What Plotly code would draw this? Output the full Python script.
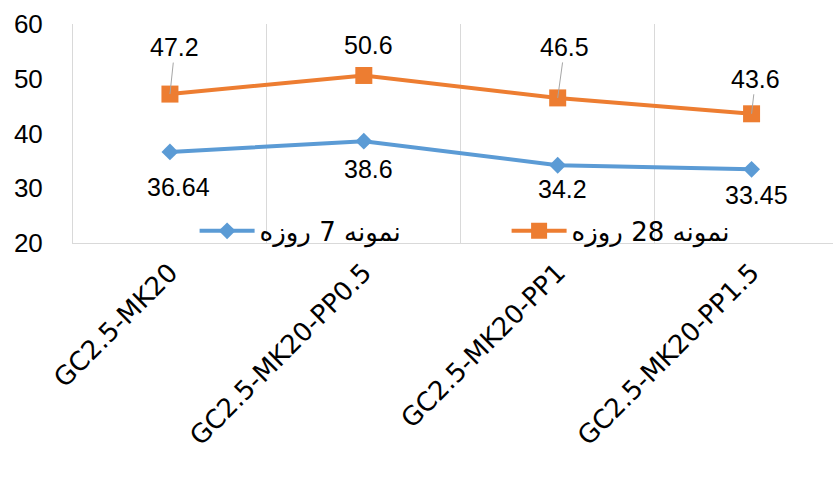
import plotly.graph_objects as go

# Mix designs on the category axis
categories = ["GC2.5-MK20", "GC2.5-MK20-PP0.5", "GC2.5-MK20-PP1", "GC2.5-MK20-PP1.5"]

# Compressive strength values
day7_values = [36.64, 38.6, 34.2, 33.45]
day28_values = [47.2, 50.6, 46.5, 43.6]

# Series names (Persian, shown right-to-left)
day7_name = "نمونه 7 روزه"
day28_name = "نمونه 28 روزه"

y_ticks = [20, 30, 40, 50, 60]

# Label placement (pixel offsets from each point) and leader-line flags
day7_label_offsets = [(9, 35), (5, 28), (5, 24), (5, 26)]
day28_label_offsets = [(5, -47), (5, -30), (7, -51), (4, -35)]
day28_leader = [True, False, True, True]

BLUE = "#5B9BD5"
ORANGE = "#ED7D31"
GRID = "#D9D9D9"
NUM_FONT = "Liberation Sans, Arial, DejaVu Sans, sans-serif"
TXT_FONT = "DejaVu Sans, sans-serif"


def rtl(s):
    return "\u202b" + s + "\u202c"


fig = go.Figure()
fig.add_trace(go.Scatter(
    x=categories, y=day7_values, name=rtl(day7_name), mode="lines+markers",
    line=dict(color=BLUE, width=4),
    marker=dict(symbol="diamond", size=13, color=BLUE),
))
fig.add_trace(go.Scatter(
    x=categories, y=day28_values, name=rtl(day28_name), mode="lines+markers",
    line=dict(color=ORANGE, width=4),
    marker=dict(symbol="square", size=17, color=ORANGE),
))

annotations = []
for cat, val, (dx, dy) in zip(categories, day7_values, day7_label_offsets):
    annotations.append(dict(
        x=cat, y=val, text=f"{val:g}", showarrow=False, xshift=dx, yshift=-dy,
        font=dict(family=NUM_FONT, size=25, color="#000000"),
    ))
for cat, val, (dx, dy), lead in zip(categories, day28_values, day28_label_offsets, day28_leader):
    if lead:
        annotations.append(dict(
            x=cat, y=val, text=f"{val:g}", showarrow=True, ax=dx, ay=dy,
            arrowhead=0, arrowwidth=1, arrowcolor="#A6A6A6", standoff=0,
            font=dict(family=NUM_FONT, size=25, color="#000000"),
        ))
    else:
        annotations.append(dict(
            x=cat, y=val, text=f"{val:g}", showarrow=False, xshift=dx, yshift=-dy,
            font=dict(family=NUM_FONT, size=25, color="#000000"),
        ))

fig.update_layout(
    width=833, height=479,
    margin=dict(l=73, r=0, t=24, b=236),
    paper_bgcolor="white", plot_bgcolor="white",
    showlegend=True,
    legend=dict(
        orientation="h", x=0.16, xanchor="left", y=0.055, yanchor="middle",
        bgcolor="rgba(0,0,0,0)", font=dict(family=TXT_FONT, size=26, color="#000000"),
        itemwidth=55, entrywidth=242, entrywidthmode="pixels",
    ),
    annotations=annotations,
    xaxis=dict(
        type="category", categoryorder="array", categoryarray=categories,
        range=[-0.5, 3.42], tickson="boundaries", automargin=False,
        showgrid=True, gridcolor=GRID, gridwidth=1,
        showline=True, linecolor=GRID, linewidth=1,
        ticks="", tickangle=-45, ticklabelstandoff=3,
        tickfont=dict(family=TXT_FONT, size=26, color="#000000"),
        zeroline=False,
    ),
    yaxis=dict(
        range=[20, 60], tickvals=y_ticks, showgrid=False, automargin=False,
        showline=True, linecolor=GRID, linewidth=1,
        ticks="", ticklabelstandoff=24,
        tickfont=dict(family=NUM_FONT, size=26, color="#000000"),
        zeroline=False,
    ),
)

fig.write_html("out.html")
